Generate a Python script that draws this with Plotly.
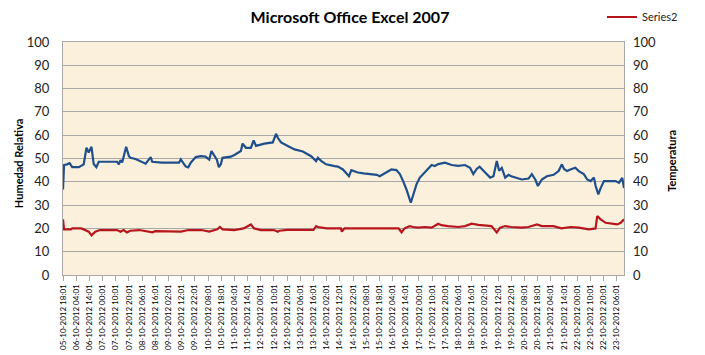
import plotly.graph_objects as go

# ---- data (hours since 05-10-2012 18:01) ----
hum_hours = [0, 0.8, 3, 5, 7, 12, 15.7, 17.8, 19.5, 21.6, 23.3, 25.3, 27.1, 35, 41, 42.4, 43.6, 44.9,
             47.9, 50, 51.2, 55, 58.8, 62.7, 66.5, 67.7, 75, 88, 89.3, 93, 95, 96.9, 100.7, 104.5,
             108, 110.9, 112.6, 114.7, 116.7, 118.2, 119.7, 121, 127.3, 130, 132.4, 134.9, 136.2,
             138.7, 142.5, 144.6, 146.4, 149.5, 152.7, 159.1, 161.6, 162.9, 165.4, 170.5, 175.6,
             181.9, 188.2, 192, 193.3, 196, 199.6, 206, 208.5, 212.3, 216.9, 218.7, 223.7, 228,
             233.9, 238, 240.2, 244.1, 249.1, 252.9, 255.5, 258, 260.5, 263.8, 265.6, 268.1, 270.7,
             273.2, 277, 279.6, 282, 284.6, 289.7, 294.8, 299.8, 304.9, 308.7, 311.2, 313.8, 316,
             320.2, 324, 326.5, 329, 330.8, 332.8, 335.4, 337.9, 340, 343, 348, 353.1, 355.6, 358.2,
             360.2, 363.2, 367, 372.1, 375.9, 378.4, 380, 382.3, 384.8, 388.6, 391.2, 395, 397.6,
             400.2, 402.7, 404, 406, 407.8, 410.3, 414.1, 419.1, 421.7, 424.2, 425.5]
hum_values = [36.7, 47.2, 47.5, 48, 46.3, 46.3, 47.5, 54.6, 52.6, 55, 47.6, 46.3, 48.6, 48.6, 48.6, 47.5, 49.3, 48.3,
              55, 51, 50.3, 49.8, 48.8, 47.8, 50.6, 48.6, 48.2, 48.2, 49.6, 46.6, 46.2, 48.2, 50.6, 51,
              50.8, 49.5, 53.2, 51, 49.5, 46.3, 47.5, 50.3, 50.8, 51.5, 52.5, 53.2, 56.4,
              54.6, 54.6, 57.8, 55.4, 56, 56.4, 56.9, 60.6, 58.9, 56.9, 55.4, 53.9,
              53, 51, 48.9, 50.3, 48.9, 47.5, 46.7, 46.5, 45.3, 42.4, 45, 44, 43.6,
              43.3, 43, 42.4, 43.6, 45.3, 45, 43.3, 40.3, 36.7, 31, 34.6, 38.9, 41.8,
              43.3, 46, 47.2, 46.8, 47.6, 48.2, 47.2, 46.8, 47.2, 46, 43.3, 45.5, 46.5,
              44, 41.8, 42.4, 48.9, 44.7, 46, 41.8, 43, 42.4, 41.8, 41, 41.4, 43.3, 41,
              38.2, 41, 42.4, 43, 44.6, 47.5, 45.5, 44.6, 45.3, 46, 44.6, 43.3, 41,
              40.3, 41.8, 38.2, 34.6, 37.3, 40.3, 40.3, 40.3, 39.6, 41.7, 37.3]

temp_hours = [0, 0.8, 6, 7, 14, 16.5, 19.5, 21.6, 24.5, 28, 41, 43.6, 46, 48.5, 51, 58, 63, 67.7, 70,
              88, 89.5, 95, 105, 110.9, 117, 119, 121, 130, 137, 142.5, 145, 150, 160, 162.9, 164,
              170, 190, 192, 193.3, 200, 210.8, 211.5, 213.5, 231, 254.5, 255.5, 256.8, 259, 263,
              265.6, 269.4, 274.5, 279.6, 284.6, 287, 292, 299.8, 304.9, 309.9, 315, 320.2, 325,
              329, 331.5, 335.4, 340, 348, 353, 359.5, 363.2, 372, 378, 385, 391.2, 398.8, 403.9,
              405.2, 407.8, 411.6, 416.6, 420.4, 423, 425.5]
temp_values = [23.9, 19.6, 19.6, 20, 20, 19.3, 18.6, 17, 18.6, 19.3, 19.3, 18.6, 19.3, 18.3, 19, 19.3, 18.9, 18.3, 18.8,
               18.8, 18.6, 19.3, 19.3, 18.6, 19.6, 20.6, 19.6, 19.3, 20, 21.7, 20, 19.3, 19.3, 18.6, 19,
               19.4, 19.4, 21, 20.6, 20, 20, 18.6, 20, 20, 20, 19.3, 18.3, 20, 21,
               20.6, 20.3, 20.6, 20.3, 22, 21.4, 21, 20.6, 21, 22, 21.5, 21.4, 21,
               18.3, 20.3, 21, 20.6, 20.3, 20.6, 21.7, 21, 21, 20, 20.6, 20.3, 19.6, 20,
               25.3, 23.9, 22.4, 22, 21.7, 22.4, 23.9]

tick_hours = list(range(0, 421, 10))
tick_labels = ["05-10-2012 18:01", "06-10-2012 04:01", "06-10-2012 14:01", "07-10-2012 00:01",
               "07-10-2012 10:01", "07-10-2012 20:01", "08-10-2012 06:01", "08-10-2012 16:01",
               "09-10-2012 02:01", "09-10-2012 12:01", "09-10-2012 22:01", "10-10-2012 08:01",
               "10-10-2012 18:01", "11-10-2012 04:01", "11-10-2012 14:01", "12-10-2012 00:01",
               "12-10-2012 10:01", "12-10-2012 20:01", "13-10-2012 06:01", "13-10-2012 16:01",
               "14-10-2012 02:01", "14-10-2012 12:01", "14-10-2012 22:01", "15-10-2012 08:01",
               "15-10-2012 18:01", "16-10-2012 04:01", "16-10-2012 14:01", "17-10-2012 00:01",
               "17-10-2012 10:01", "17-10-2012 20:01", "18-10-2012 06:01", "18-10-2012 16:01",
               "19-10-2012 02:01", "19-10-2012 12:01", "19-10-2012 22:01", "20-10-2012 08:01",
               "20-10-2012 18:01", "21-10-2012 04:01", "21-10-2012 14:01", "22-10-2012 00:01",
               "22-10-2012 10:01", "22-10-2012 20:01", "23-10-2012 06:01"]
y_ticks = list(range(0, 101, 10))

FONT = "Lato, Liberation Sans, sans-serif"
GRID = "#A8A8A8"

# the page body has an 8px margin: figure is sized so that it fills the 705x355 window
W, H = 697, 347
L, R, T, B = 55, 81, 34, 80
PW, PH = W - L - R, H - T - B

fig = go.Figure()
fig.add_trace(go.Scatter(x=hum_hours, y=hum_values, mode="lines", name="Series1",
                         line=dict(color="#1F4E8C", width=2.2), showlegend=False))
fig.add_trace(go.Scatter(x=temp_hours, y=temp_values, mode="lines", name="Series2", yaxis="y2",
                         line=dict(color="#B8161C", width=2.2), showlegend=True))

fig.update_layout(
    width=W, height=H,
    margin=dict(l=L, r=R, t=T, b=B, pad=0, autoexpand=False),
    paper_bgcolor="white",
    plot_bgcolor="#FAF0DB",
    title=dict(text="<b>Microsoft Office Excel 2007</b>", x=342 / W, xanchor="center",
               y=1 - 9.5 / H, yanchor="middle", yref="container",
               font=dict(family=FONT, size=16, color="#000000")),
    showlegend=True,
    legend=dict(x=(594 - L) / PW, y=1 + (T - 9) / PH, xanchor="left", yanchor="middle",
                font=dict(family=FONT, size=11, color="#222222"), bgcolor="rgba(0,0,0,0)",
                itemwidth=30, tracegroupgap=0, borderwidth=0),
    xaxis=dict(range=[0, 425.5], tickmode="array", tickvals=tick_hours, ticktext=tick_labels,
               tickangle=-90, tickfont=dict(family=FONT, size=8, color="#000000"),
               showgrid=False, zeroline=False, showline=True, linecolor=GRID, linewidth=1.3,
               mirror=True, ticks="outside", ticklen=5, tickcolor=GRID, automargin=False),
    yaxis=dict(range=[0, 100], tickmode="array", tickvals=y_ticks, showgrid=True,
               gridcolor=GRID, gridwidth=1.3, zeroline=False, showline=True, linecolor=GRID,
               linewidth=1.3, mirror=True, ticks="", ticklabelstandoff=10,
               tickfont=dict(family=FONT, size=13, color="#222222"), automargin=False),
    yaxis2=dict(range=[0, 100], tickmode="array", tickvals=y_ticks, overlaying="y", side="right",
                showgrid=False, zeroline=False, showline=False, ticks="", ticklabelstandoff=8,
                tickfont=dict(family=FONT, size=13, color="#222222"), automargin=False),
    annotations=[
        dict(text="<b>Humedad Relativa</b>", textangle=-90, xref="paper", yref="paper",
             x=(10 - L) / PW, y=0.48, xanchor="center", yanchor="middle", showarrow=False,
             font=dict(family=FONT, size=11, color="#000000")),
        dict(text="<b>Temperatura</b>", textangle=-90, xref="paper", yref="paper",
             x=(664 - L) / PW, y=0.49, xanchor="center", yanchor="middle", showarrow=False,
             font=dict(family=FONT, size=11, color="#000000")),
    ],
)

fig.write_html("out.html")
